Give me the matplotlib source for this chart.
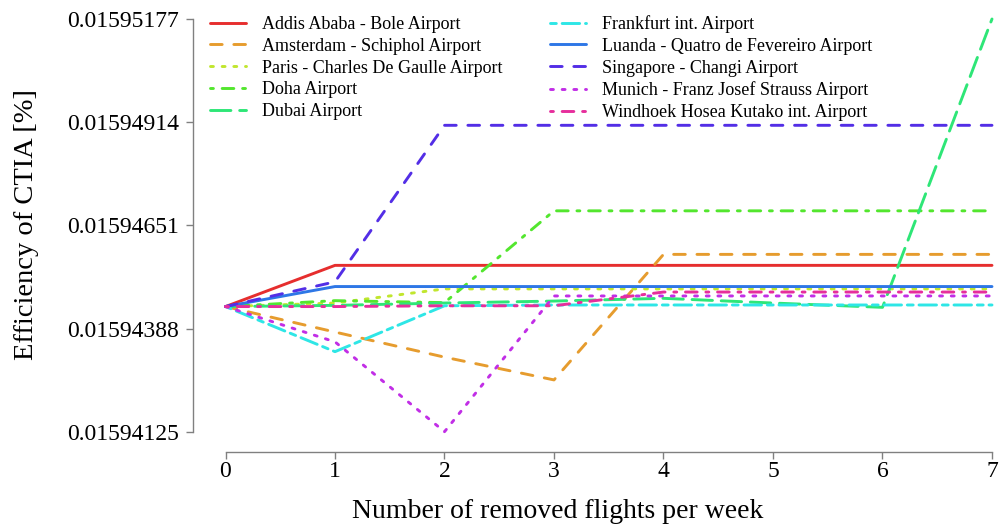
import matplotlib
matplotlib.use("Agg")
import matplotlib.pyplot as plt
from matplotlib.ticker import FormatStrFormatter

plt.rcParams["font.family"] = ["Liberation Serif", "DejaVu Serif"]

# --- Data: CTIA efficiency vs. removed weekly flights per airport ---
removed_flights = [0, 1, 2, 3, 4, 5, 6, 7]

addis    = [0.01594444, 0.01594549, 0.01594549, 0.01594549, 0.01594549, 0.01594549, 0.01594549, 0.01594549]
amsterdam = [0.01594444, 0.01594379, 0.01594315, 0.01594257, 0.01594577, 0.01594577, 0.01594577, 0.01594577]
paris    = [0.01594444, 0.01594453, 0.01594489, 0.01594489, 0.01594489, 0.01594489, 0.01594489, 0.01594489]
doha     = [0.01594444, 0.01594459, 0.01594454, 0.01594688, 0.01594688, 0.01594688, 0.01594688, 0.01594688]
dubai    = [0.01594444, 0.01594447, 0.01594453, 0.01594458, 0.01594465, 0.01594453, 0.01594442, 0.01595177]
frankfurt = [0.01594444, 0.01594329, 0.01594446, 0.01594448, 0.01594448, 0.01594448, 0.01594448, 0.01594448]
luanda   = [0.01594444, 0.01594495, 0.01594495, 0.01594495, 0.01594495, 0.01594495, 0.01594495, 0.01594495]
singapore = [0.01594444, 0.01594507, 0.01594906, 0.01594906, 0.01594906, 0.01594906, 0.01594906, 0.01594906]
munich   = [0.01594444, 0.01594354, 0.01594125, 0.01594471, 0.01594471, 0.01594471, 0.01594471, 0.01594471]
windhoek = [0.01594444, 0.01594444, 0.01594446, 0.01594446, 0.01594481, 0.01594481, 0.01594481, 0.01594481]

labels = [
    "Addis Ababa - Bole Airport",
    "Amsterdam - Schiphol Airport",
    "Paris - Charles De Gaulle Airport",
    "Doha Airport",
    "Dubai Airport",
    "Frankfurt int. Airport",
    "Luanda - Quatro de Fevereiro Airport",
    "Singapore - Changi Airport",
    "Munich - Franz Josef Strauss Airport",
    "Windhoek Hosea Kutako int. Airport",
]
series = [addis, amsterdam, paris, doha, dubai, frankfurt, luanda, singapore, munich, windhoek]

y_ticks = [0.01594125, 0.01594388, 0.01594651, 0.01594914, 0.01595177]

# rainbow palette, slightly desaturated
colors = ["#E62E2E", "#E69C2E", "#C1E62E", "#53E62E", "#2EE677",
          "#2EE6E6", "#2E77E6", "#532EE6", "#C12EE6", "#E62E9C"]
# R-like lty 1..6, recycled
styles = ["-", (0, (4, 4)), (0, (1, 3)), (0, (1, 3, 4, 3)), (0, (7, 3)), (0, (2, 2, 6, 2))]

fig = plt.figure(figsize=(9.99, 5.27), dpi=100)
ax = fig.add_axes([225.5 / 999, 95.3 / 527, 766.5 / 999, 412.7 / 527])

for i, (vals, lab) in enumerate(zip(series, labels)):
    ax.plot(removed_flights, vals, color=colors[i], ls=styles[i % 6], lw=2.1,
            dash_capstyle="round", solid_capstyle="round", label=lab, clip_on=False)

ax.set_xlim(0, 7)
ax.set_ylim(y_ticks[0], y_ticks[-1])
ax.set_xticks(removed_flights)
ax.set_yticks(y_ticks)
ax.yaxis.set_major_formatter(FormatStrFormatter("%.8f"))

for s in ["top", "right"]:
    ax.spines[s].set_visible(False)
ax.spines["left"].set_position(("outward", 23.6))
ax.spines["bottom"].set_position(("outward", 14.4))
ax.spines["left"].set_bounds(y_ticks[0], y_ticks[-1])
ax.spines["bottom"].set_bounds(0, 7)
for s in ["left", "bottom"]:
    ax.spines[s].set_color("#808080")
    ax.spines[s].set_linewidth(1.0)

ax.tick_params(axis="both", colors="#808080", labelcolor="black", labelsize=17,
               length=5, width=1.0)
ax.tick_params(axis="y", pad=5)
ax.tick_params(axis="x", pad=2)

ax.set_xlabel("Number of removed flights per week", fontsize=20)
ax.set_ylabel("Efficiency of CTIA [%]", fontsize=20.5)
ax.xaxis.set_label_coords(0.434, -0.163)
ax.yaxis.set_label_coords(39 / 999, 1 - 225 / 527, transform=fig.transFigure)

ax.legend(loc="upper left", bbox_to_anchor=(210 / 999, 1 - 15 / 527),
          bbox_transform=fig.transFigure, ncol=2, frameon=False, fontsize=13,
          handlelength=2.0, handletextpad=0.9, columnspacing=2.6,
          labelspacing=0.27, borderpad=0, borderaxespad=0)

fig.savefig("out.png", dpi=100)
